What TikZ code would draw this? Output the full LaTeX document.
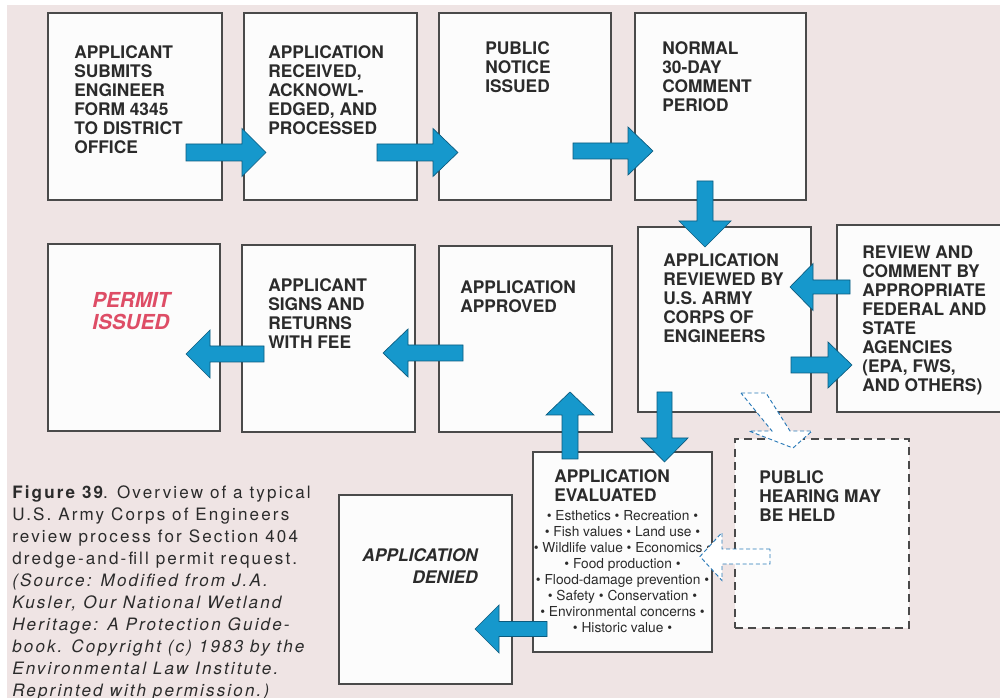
\documentclass[tikz,border=0pt]{standalone}
\usepackage{fontspec}
\setmainfont{TeX Gyre Heros}
\newfontfamily\capfont[LetterSpace=12.5]{TeX Gyre Heros}
\usetikzlibrary{fit}
\definecolor{bg}{HTML}{EFE4E4}
\definecolor{boxfill}{HTML}{FCFCFC}
\definecolor{boxline}{HTML}{4A4A4A}
\definecolor{ink}{HTML}{2B2B2B}
\definecolor{arrfill}{HTML}{1698CC}
\definecolor{arrline}{HTML}{0B5A7D}
\definecolor{dashblue}{HTML}{2A7AB8}
\definecolor{permitred}{HTML}{DE4D66}
\newcommand\bxfont{\fontsize{13}{14.25}\selectfont\bfseries}
\newcommand\harr[7][blockarr]{\filldraw[#1] (#2,#5-#6) -- (#3,#5-#6) -- (#3,#5-#7) -- (#4,#5) -- (#3,#5+#7) -- (#3,#5+#6) -- (#2,#5+#6) -- cycle;}
\newcommand\varr[7][blockarr]{\filldraw[#1] (#5-#6,#2) -- (#5-#6,#3) -- (#5-#7,#3) -- (#5,#4) -- (#5+#7,#3) -- (#5+#6,#3) -- (#5+#6,#2) -- cycle;}
\begin{document}
\begin{tikzpicture}[x=0.75pt,y=-0.75pt,
  box/.style={draw=boxline, fill=boxfill, line width=0.9pt, inner sep=0pt, outer sep=0pt},
  dbox/.style={box, dash pattern=on 6pt off 4pt},
  txt/.style={inner sep=0pt, anchor=north west, align=left, font=\bxfont, text=ink},
  blockarr/.style={fill=arrfill, draw=arrline, line width=0.5pt, line join=miter},
  dasharr/.style={fill=white, draw=dashblue, line width=0.7pt, dash pattern=on 3pt off 2pt}]
\useasboundingbox (0,0) rectangle (1000,698);
\clip (0,0) rectangle (1000,698);
\fill[white] (0,0) rectangle (1000,698);
\fill[bg] (7,5) rectangle (1000,698);
% boxes
\node[box, fit={(48,13) (222,200)}] (b1) {};
\node[box, fit={(244,13) (417,200)}] (b2) {};
\node[box, fit={(439,13) (611,200)}] (b3) {};
\node[box, fit={(635,13) (806,200)}] (b4) {};
\node[box, fit={(48,244) (220,431)}] (b5) {};
\node[box, fit={(242,245) (415,432)}] (b6) {};
\node[box, fit={(439,246) (612,432)}] (b7) {};
\node[box, fit={(638,227) (811,412)}] (b8) {};
\node[box, fit={(837,225) (1010,412)}] (b9) {};
\node[box, fit={(533,452) (712,652)}] (b10) {};
\node[dbox, fit={(735,439) (909,628)}] (b11) {};
\node[box, fit={(339,495) (512,684)}] (b12) {};
% texts
\node[txt] (t1) at (74,45) {APPLICANT\\SUBMITS\\ENGINEER\\FORM 4345\\TO DISTRICT\\OFFICE};
\node[txt] (t2) at (268,45) {APPLICATION\\RECEIVED,\\ACKNOWL-\\EDGED, AND\\PROCESSED};
\node[txt] (t3) at (485,41) {PUBLIC\\NOTICE\\ISSUED};
\node[txt] (t4) at (662,41) {NORMAL\\30-DAY\\COMMENT\\PERIOD};
\node[txt, text=permitred, font=\fontsize{15.5}{16.5}\selectfont\bfseries\itshape] (t5) at (92,292) {PERMIT\\ISSUED};
\node[txt] (t6) at (268,278) {APPLICANT\\SIGNS AND\\RETURNS\\WITH FEE};
\node[txt] (t7) at (460,280) {APPLICATION\\APPROVED};
\node[txt] (t8) at (663,253) {APPLICATION\\REVIEWED BY\\U.S. ARMY\\CORPS OF\\ENGINEERS};
\node[txt] (t9) at (862,246) {REVIEW AND\\COMMENT BY\\APPROPRIATE\\FEDERAL AND\\STATE\\AGENCIES\\(EPA, FWS,\\AND OTHERS)};
\node[txt] (t10) at (554,469) {APPLICATION\\EVALUATED};
\node[inner sep=0pt, anchor=north, align=center, text=ink, font=\fontsize{10.3}{12}\selectfont] (lst) at (622.5,510.5)
  {\textbullet\ Esthetics \textbullet\ Recreation \textbullet\\
   \textbullet\ Fish values \textbullet\ Land use \textbullet\\
   \textbullet\ Wildlife value \textbullet\ Economics \textbullet\\
   \textbullet\ Food production \textbullet\\
   \textbullet\ Flood-damage prevention \textbullet\\
   \textbullet\ Safety \textbullet\ Conservation \textbullet\\
   \textbullet\ Environmental concerns \textbullet\\
   \textbullet\ Historic value \textbullet};
\node[txt] (t11) at (759,470) {PUBLIC\\HEARING MAY\\BE HELD};
\node[txt, anchor=north east, align=right, font=\fontsize{13}{16.5}\selectfont\bfseries\itshape] (t12) at (478,548) {APPLICATION\\DENIED};
% caption
\node[inner sep=0pt, anchor=north west, align=left, text=ink, font=\capfont\fontsize{12.8}{16.5}\selectfont] (cap) at (12,485)
  {{\bfseries Figure 39}. Overview of a typical\\
   U.S. Army Corps of Engineers\\
   review process for Section 404\\
   dredge-and-fill permit request.\\
   \itshape (Source: Modified from J.A.\\
   \itshape Kusler, Our National Wetland\\
   \itshape Heritage: A Protection Guide-\\
   \itshape book. Copyright (c) 1983 by the\\
   \itshape Environmental Law Institute.\\
   \itshape Reprinted with permission.)};
% block arrows
\harr{186}{242}{266}{152.5}{8.5}{24}
\harr{377}{433}{458}{152.5}{8.5}{24}
\harr{573}{628}{653}{151}{8}{24}
\varr{181}{221}{247}{705}{8}{26}
\harr{850}{813}{790}{287}{7}{23.5}
\harr{791}{828}{852}{365}{8}{23}
\varr{392}{438}{462}{664.5}{7.5}{23.5}
\varr{459}{415}{392}{570}{8}{24}
\harr{463}{408}{383}{353}{8}{24}
\harr{264}{210}{186}{354}{8}{24}
\harr{547}{499}{475}{629}{7.5}{24}
% dashed arrows
\harr[dasharr]{770}{722}{700}{556.5}{7.5}{24}
\filldraw[dasharr] (741,393) -- (766,393) -- (790,431) -- (812,431) -- (793,448) -- (749,431) -- (772,431) -- cycle;
\end{tikzpicture}
\end{document}
